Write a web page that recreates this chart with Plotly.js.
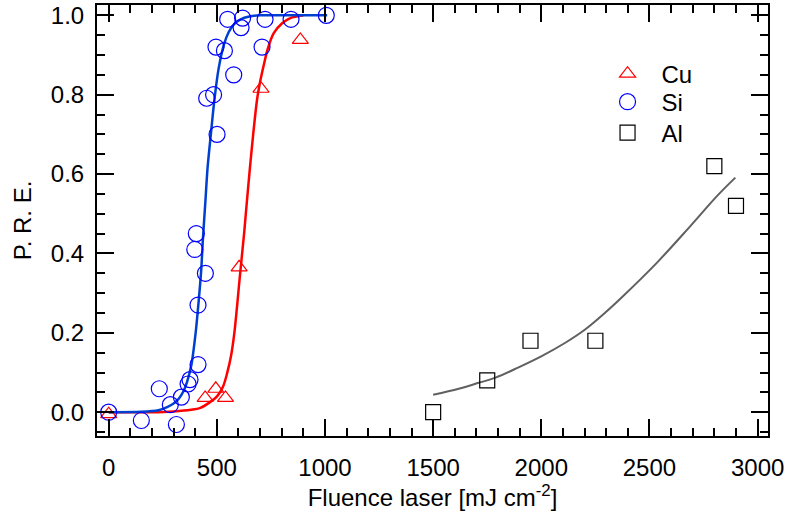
<!DOCTYPE html>
<html>
<head>
<meta charset="utf-8">
<script src="https://cdn.plot.ly/plotly-3.0.1.min.js"></script>
<style>html,body{margin:0;padding:0;background:#fff;}#chart{width:785px;height:523px;}</style>
</head>
<body>
<div id="chart"></div>
<script>
// Measured points
const cuX = [0, 446, 495, 540, 603, 704, 886];
const cuY = [-0.005, 0.036, 0.059, 0.036, 0.365, 0.815, 0.938];

const siX = [0, 151, 234, 285, 313, 336, 367, 376, 398, 405, 413, 413, 447, 453, 485, 496, 501, 535, 550, 578, 612, 619, 709, 723, 843, 1006];
const siY = [0.0, -0.021, 0.059, 0.019, -0.031, 0.038, 0.071, 0.082, 0.41, 0.45, 0.27, 0.12, 0.35, 0.791, 0.8, 0.92, 0.7, 0.911, 0.99, 0.85, 0.969, 0.993, 0.92, 0.99, 0.99, 1.0];

const alX = [1500, 1750, 1950, 2250, 2800, 2900];
const alY = [0.0, 0.08, 0.18, 0.18, 0.62, 0.52];

// Fitted curves
const cuFitX = [0, 200, 300, 380, 424, 470, 501, 529, 547, 566, 581, 594, 606, 626, 634, 652, 668, 686, 701, 717, 735, 763, 802, 840, 900];
const cuFitY = [0, 0, 0.002, 0.006, 0.011, 0.026, 0.040, 0.065, 0.097, 0.143, 0.2, 0.27, 0.34, 0.45, 0.50, 0.61, 0.70, 0.788, 0.835, 0.875, 0.915, 0.955, 0.98, 0.993, 1.0];

const siFitX = [0, 150, 230, 270, 300, 324, 345, 362, 382, 402, 416, 428, 436, 447, 457, 473, 489, 508, 532, 555, 580, 610, 650, 700, 800, 900, 1010];
const siFitY = [0, 0.001, 0.005, 0.013, 0.022, 0.034, 0.052, 0.076, 0.118, 0.2, 0.28, 0.36, 0.44, 0.53, 0.615, 0.704, 0.788, 0.865, 0.925, 0.958, 0.978, 0.99, 0.997, 1.0, 1.0, 1.0, 1.0];

const alFitX = [1500, 1618, 1711, 1788, 1895, 2004, 2111, 2204, 2296, 2381, 2535, 2689, 2813, 2897];
const alFitY = [0.044, 0.059, 0.074, 0.087, 0.113, 0.142, 0.175, 0.209, 0.251, 0.294, 0.377, 0.469, 0.545, 0.591];

const xTicks = [0, 500, 1000, 1500, 2000, 2500, 3000];
const yTicks = [0.0, 0.2, 0.4, 0.6, 0.8, 1.0];

const FONT = 'Liberation Sans, Arial, sans-serif';
const FS = 24;

const traces = [
  {x: cuFitX, y: cuFitY, mode: 'lines', line: {color: '#ff0000', width: 2.5, shape: 'spline', smoothing: 0.8}, showlegend: false, hoverinfo: 'skip'},
  {x: siFitX, y: siFitY, mode: 'lines', line: {color: '#0040d0', width: 2.5, shape: 'spline', smoothing: 0.8}, showlegend: false, hoverinfo: 'skip'},
  {x: alFitX, y: alFitY, mode: 'lines', line: {color: '#606060', width: 2, shape: 'spline', smoothing: 1}, showlegend: false, hoverinfo: 'skip'},
  {x: cuX, y: cuY, name: 'Cu', legend: 'legend', mode: 'markers', marker: {symbol: 'triangle-up-open', size: 14, color: '#ff0000', line: {width: 1.2, color: '#ff0000'}}},
  {x: siX, y: siY, name: 'Si', legend: 'legend2', mode: 'markers', marker: {symbol: 'circle-open', size: 16, color: '#0000ff', line: {width: 1.2, color: '#0000ff'}}},
  {x: alX, y: alY, name: 'Al', legend: 'legend3', mode: 'markers', marker: {symbol: 'square-open', size: 15, color: '#000000', line: {width: 1.2, color: '#000000'}}}
];

const axisCommon = {
  showgrid: false, zeroline: false, showline: true, linecolor: '#000', linewidth: 2,
  mirror: 'ticks', ticks: 'inside', ticklen: 17, tickwidth: 2, tickcolor: '#000',
  tickfont: {family: FONT, size: FS, color: '#000'}
};

function legendAt(y) {
  return {x: 0.740, y: y, xanchor: 'left', yanchor: 'top', bgcolor: 'rgba(0,0,0,0)', borderwidth: 0,
          itemwidth: 58, font: {family: FONT, size: FS, color: '#000'}};
}

const layout = {
  width: 785, height: 523,
  margin: {l: 97, r: 17, t: 5, b: 87},
  paper_bgcolor: '#fff', plot_bgcolor: '#fff',
  font: {family: FONT, size: FS, color: '#000'},
  xaxis: Object.assign({}, axisCommon, {
    range: [-54, 3048], tickvals: xTicks, ticktext: xTicks.map(String),
    ticklabelstandoff: 9,
    minor: {dtick: 100, tick0: 0, ticks: 'inside', ticklen: 8, tickwidth: 2, tickcolor: '#000'},
    title: {text: 'Fluence laser [mJ cm<sup>-2</sup>]', font: {family: FONT, size: FS, color: '#000'}, standoff: 8}
  }),
  yaxis: Object.assign({}, axisCommon, {
    range: [-0.06, 1.026], tickvals: yTicks, ticktext: yTicks.map(v => v.toFixed(1)),
    ticklabelstandoff: 6,
    minor: {dtick: 0.05, tick0: 0, ticks: 'inside', ticklen: 8, tickwidth: 2, tickcolor: '#000'},
    title: {text: 'P. R. E.', font: {family: FONT, size: FS, color: '#000'}, standoff: 12}
  }),
  legend: legendAt(0.892),
  legend2: legendAt(0.827),
  legend3: legendAt(0.755),
  showlegend: true
};

Plotly.newPlot('chart', traces, layout, {displayModeBar: false, staticPlot: true});
</script>
</body>
</html>
